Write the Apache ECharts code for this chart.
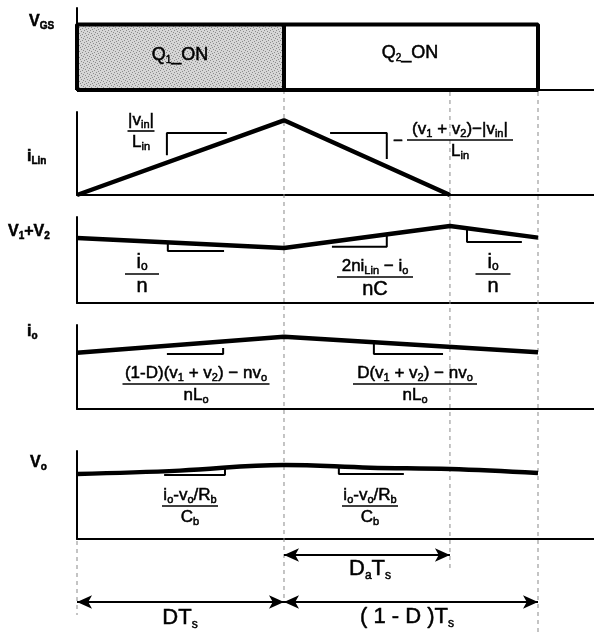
<!DOCTYPE html>
<html>
<head>
<meta charset="utf-8">
<script src="https://cdn.jsdelivr.net/npm/echarts@6/dist/echarts.min.js"></script>
<style>
  html, body { margin: 0; padding: 0; background: #fff; }
  #chart { width: 594px; height: 634px; }
</style>
</head>
<body>
<div id="chart"></div>
<script>
// 时间按开关周期 Ts 归一化：0 = 周期起点，1 = Ts
const tD = 0.449;   // DTs
const tDa = 0.809;  // (D + Da)Ts
const tEnd = 1;

// 各波形（纵轴为各自面板内的相对幅值）
const vgsQ1 = [[0, 0.8], [0.449, 0.8]];
const vgsBox = [[0, 0], [0, 0.8], [1, 0.8], [1, 0], [0, 0]];
const vgsSplit = [[0.449, 0], [0.449, 0.8]];
const iLin = [[0, 0], [0.449, 0.9], [0.809, 0]];
const v12 = [[0, 0.756], [0.449, 0.64], [0.809, 0.895], [1, 0.76]];
const io = [[0, 0.67], [0.449, 0.86], [1, 0.675]];
const vo = [[0, 0.739], [0.223, 0.777], [0.449, 0.841], [0.636, 0.81], [0.809, 0.795], [1, 0.75]];

// 斜率标注折线
const slopeILin = [
  [[0.195, 0.48], [0.195, 0.747], [0.325, 0.747]],
  [[0.549, 0.747], [0.672, 0.747], [0.672, 0.434]]
];
const slopeV12 = [
  [[0.197, 0.70], [0.197, 0.605], [0.319, 0.605]],
  [[0.553, 0.655], [0.672, 0.655], [0.672, 0.79]],
  [[0.846, 0.86], [0.846, 0.709], [0.965, 0.709]]
];
const slopeIo = [
  [[0.195, 0.655], [0.317, 0.655], [0.317, 0.726]],
  [[0.644, 0.786], [0.644, 0.655], [0.794, 0.655]]
];
const slopeVo = [
  [[0.189, 0.727], [0.321, 0.727], [0.321, 0.807]],
  [[0.568, 0.83], [0.568, 0.739], [0.709, 0.739]]
];

// 底部时间区间 [起, 止, 行]
const spanDa = [0.449, 0.809, 0.875];
const spanD = [0, 0.449, 0.2875];
const spanOff = [0.449, 1, 0.2875];

// 文字
const panelNames = ['{b|V}{bs|GS}', '{b|i}{bs|Lin}', '{b|V}{bs|1}{b|+V}{bs|2}', '{b|i}{bs|o}', '{b|V}{bs|o}'];
const stateNames = ['{q|Q}{qs|1}{q|_ON}', '{q|Q}{qs|2}{q|_ON}'];
const spanNames = ['{L|D}{Ls|a}{L|T}{Ls|s}', '{L|DT}{Ls|s}', '{L|( 1 - D )T}{Ls|s}'];

const F = 'Liberation Sans, Arial, sans-serif';
const XMAX = 517 / 461;
const panels = [
  { top: 8, h: 82 }, { top: 112, h: 83 }, { top: 217, h: 86 },
  { top: 325, h: 84 }, { top: 451, h: 88 }, { top: 545, h: 80 }, { top: 0, h: 634 }
];

// 扫描图的笔画偏粗，加一点描边
const ink = { fill: '#000', stroke: '#000', lineWidth: 0.5 };
const rich = {
  m: Object.assign({ fontFamily: F, fontSize: 17, lineHeight: 20 }, ink),
  s: Object.assign({ fontFamily: F, fontSize: 11, lineHeight: 11, verticalAlign: 'bottom' }, ink),
  M: Object.assign({ fontFamily: F, fontSize: 20, lineHeight: 22 }, ink),
  S: Object.assign({ fontFamily: F, fontSize: 12, lineHeight: 12, verticalAlign: 'bottom' }, ink),
  b: Object.assign({ fontFamily: F, fontSize: 16, fontWeight: 'bold', lineHeight: 19 }, ink),
  bs: Object.assign({ fontFamily: F, fontSize: 10, fontWeight: 'bold', lineHeight: 10, verticalAlign: 'bottom' }, ink),
  q: Object.assign({ fontFamily: F, fontSize: 18, lineHeight: 21 }, ink),
  qs: Object.assign({ fontFamily: F, fontSize: 10, lineHeight: 10, verticalAlign: 'bottom' }, ink),
  L: Object.assign({ fontFamily: F, fontSize: 22, lineHeight: 25 }, ink),
  Ls: Object.assign({ fontFamily: F, fontSize: 12, lineHeight: 12, verticalAlign: 'bottom' }, ink)
};

function stipple() {
  let c = document.createElement('canvas');
  c.width = 6;
  c.height = 6;
  let g = c.getContext('2d');
  g.fillStyle = '#d6d6d6';
  g.fillRect(0, 0, 6, 6);
  g.fillStyle = '#8c8c8c';
  [[0, 0], [3, 1], [1, 3], [4, 4], [5, 2], [2, 5]].forEach((p) => g.fillRect(p[0], p[1], 1, 1));
  return c;
}

function line(idx, data, width, extra) {
  return Object.assign({
    type: 'line', xAxisIndex: idx, yAxisIndex: idx, data: data,
    symbol: 'none', silent: true, animation: false, z: 3,
    lineStyle: { color: '#000', width: width }
  }, extra || {});
}

function guide(t, y1, y2) {
  return line(6, [[t, y1], [t, y2]], 1, { z: 1, lineStyle: { color: '#8a8a8a', width: 1, type: [4, 4] } });
}

function text(x, y, str, align, vAlign) {
  return {
    type: 'text', x: x, y: y, z: 100, silent: true,
    style: { text: str, rich: rich, align: align || 'left', verticalAlign: vAlign || 'middle' }
  };
}

function frac(cx, y, w, num, den) {
  return [
    text(cx, y - 1, num, 'center', 'bottom'),
    { type: 'line', z: 100, silent: true, shape: { x1: cx - w / 2, y1: y, x2: cx + w / 2, y2: y }, style: { stroke: '#000', lineWidth: 1.6 } },
    text(cx, y + 1, den, 'center', 'top')
  ];
}

let grids = panels.map((p) => ({ left: 77, width: 517, top: p.top, height: p.h }));
let xAxes = panels.map((p, i) => ({
  gridIndex: i, type: 'value', min: 0, max: XMAX, show: i < 5,
  axisLine: { lineStyle: { color: '#000', width: 2 } },
  axisTick: { show: false }, axisLabel: { show: false }, splitLine: { show: false }
}));
let yAxes = panels.map((p, i) => ({
  gridIndex: i, type: 'value', min: 0, max: i === 6 ? 634 : 1, inverse: i === 6, show: i < 5,
  axisLine: { lineStyle: { color: '#000', width: 2 } },
  axisTick: { show: false }, axisLabel: { show: false }, splitLine: { show: false }
}));

let series = [
  guide(tD, 90, 600), guide(tDa, 92, 572), guide(tEnd, 92, 634), guide(0, 541, 615),
  line(0, vgsQ1, 0, { z: 2, areaStyle: { color: { image: stipple(), repeat: 'repeat' }, opacity: 1 } }),
  line(0, vgsBox, 4),
  line(0, vgsSplit, 4),
  line(1, iLin, 4.5),
  line(2, v12, 4.5),
  line(3, io, 4.5),
  line(4, vo, 4.5, { smooth: 0.4 })
];
slopeILin.forEach((d) => series.push(line(1, d, 2)));
slopeV12.forEach((d) => series.push(line(2, d, 2)));
slopeIo.forEach((d) => series.push(line(3, d, 2)));
slopeVo.forEach((d) => series.push(line(4, d, 2)));
series.push({
  type: 'line', xAxisIndex: 5, yAxisIndex: 5, data: [], silent: true, animation: false,
  markLine: {
    silent: true, animation: false, symbol: ['arrow', 'arrow'], symbolSize: [10, 15],
    lineStyle: { color: '#000', width: 2, type: 'solid' }, label: { show: false },
    data: [spanDa, spanD, spanOff].map((s) => [{ coord: [s[0], s[2]] }, { coord: [s[1], s[2]] }])
  }
});

let graphic = [
  text(29, 22, panelNames[0]),
  text(27, 157, panelNames[1]),
  text(8, 232, panelNames[2]),
  text(27, 332, panelNames[3]),
  text(30, 463, panelNames[4]),
  text(180, 55, stateNames[0], 'center'),
  text(410, 53, stateNames[1], 'center'),
  text(370, 569, spanNames[0], 'center'),
  text(180, 618, spanNames[1], 'center'),
  text(407, 617, spanNames[2], 'center'),
  text(398, 141, '{m|−}', 'center')
].concat(
  frac(141, 131, 27, '{m||v}{s|in}{m||}', '{m|L}{s|in}'),
  frac(460, 140, 106, '{m|(v}{s|1}{m| + v}{s|2}{m|)−|v}{s|in}{m||}', '{m|L}{s|in}'),
  frac(142, 274, 34, '{M|i}{S|o}', '{M|n}'),
  frac(375, 277, 76, '{m|2ni}{s|Lin}{m| − i}{s|o}', '{M|nC}'),
  frac(493, 274, 35, '{M|i}{S|o}', '{M|n}'),
  frac(196, 384, 147, '{m|(1-D)(v}{s|1}{m| + v}{s|2}{m|) − nv}{s|o}', '{m|nL}{s|o}'),
  frac(415, 384, 124, '{m|D(v}{s|1}{m| + v}{s|2}{m|) − nv}{s|o}', '{m|nL}{s|o}'),
  frac(190, 506, 56, '{m|i}{s|o}{m|-v}{s|o}{m|/R}{s|b}', '{m|C}{s|b}'),
  frac(370, 506, 56, '{m|i}{s|o}{m|-v}{s|o}{m|/R}{s|b}', '{m|C}{s|b}')
);

let chart = echarts.init(document.getElementById('chart'));
chart.setOption({
  animation: false,
  backgroundColor: '#fff',
  grid: grids,
  xAxis: xAxes,
  yAxis: yAxes,
  series: series,
  graphic: graphic
});
</script>
</body>
</html>
